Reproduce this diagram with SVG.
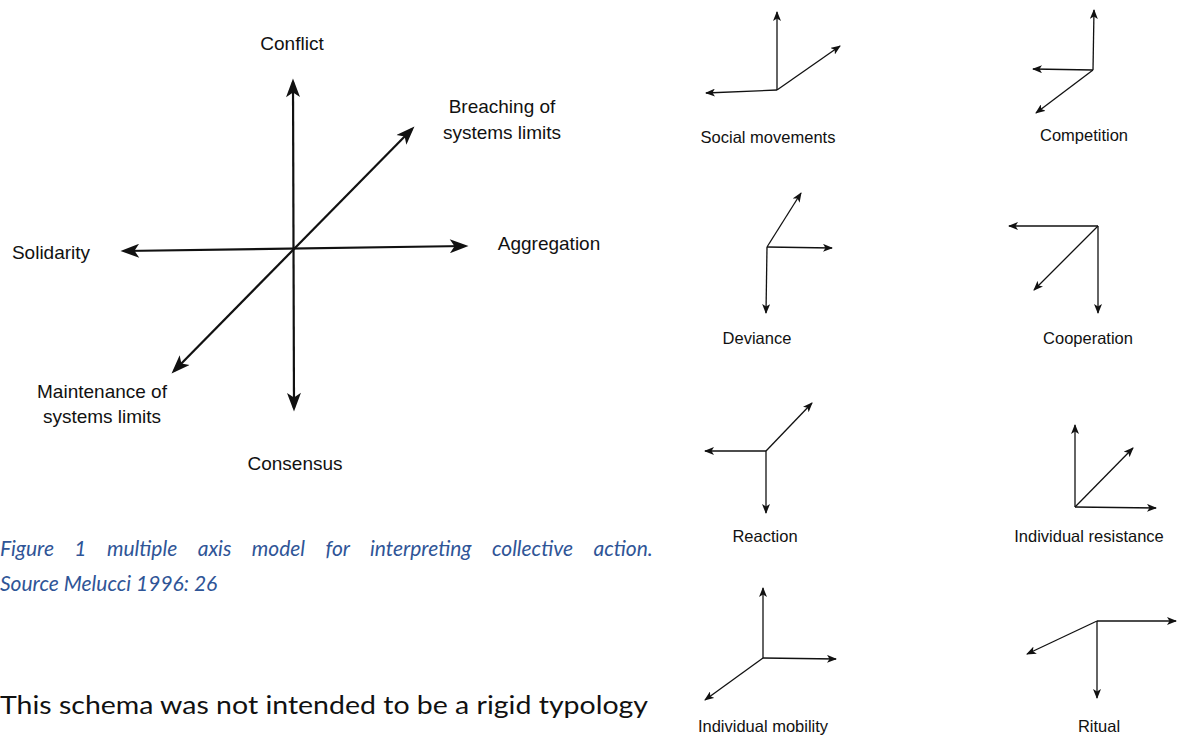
<svg xmlns="http://www.w3.org/2000/svg" width="1177" height="735" viewBox="0 0 1177 735">
<style>
.lbl{font-family:"Liberation Sans",Arial,sans-serif;font-size:19px;fill:#111;text-anchor:middle}
.sl{font-family:"Liberation Sans",Arial,sans-serif;font-size:16.5px;fill:#111;text-anchor:middle}
.ax{stroke:#111;stroke-width:2.2;fill:none;marker-start:url(#big);marker-end:url(#big)}
.sm{stroke:#111;stroke-width:1.3;fill:none;marker-end:url(#small)}
.cap{font-family:Lato,"Open Sans",sans-serif;font-style:italic;font-size:21px;fill:#2F5597}
.body{font-family:Lato,"Open Sans",sans-serif;font-size:25px;fill:#111}
</style>
<defs>
<marker id="big" markerUnits="userSpaceOnUse" markerWidth="20" markerHeight="14" viewBox="0 0 16 12" refX="13" refY="6" orient="auto-start-reverse">
<path d="M0,0 L16,6 L0,12 L4,6 z" fill="#111"/>
</marker>
<marker id="small" markerUnits="userSpaceOnUse" markerWidth="10" markerHeight="8" viewBox="0 0 10 8" refX="9" refY="4" orient="auto">
<path d="M0,0 L10,4 L0,8 L2.5,4 z" fill="#111"/>
</marker>
</defs>
<rect width="1177" height="735" fill="#fff"/>

<g id="connectors">
<line class="ax" x1="294" y1="408" x2="293" y2="82"/>
<line class="ax" x1="124" y1="251" x2="465" y2="246"/>
<line class="ax" x1="174" y1="371" x2="412" y2="129"/>
</g>

<g id="conflict"><text class="lbl" x="292" y="50">Conflict</text></g>
<g id="breaching"><text class="lbl" x="502" y="113">Breaching of</text><text class="lbl" x="502" y="139">systems limits</text></g>
<g id="solidarity"><text class="lbl" x="51" y="259">Solidarity</text></g>
<g id="aggregation"><text class="lbl" x="549" y="250">Aggregation</text></g>
<g id="maintenance"><text class="lbl" x="102" y="398">Maintenance of</text><text class="lbl" x="102" y="423">systems limits</text></g>
<g id="consensus"><text class="lbl" x="295" y="470">Consensus</text></g>

<g id="caption">
<text class="cap" x="0" y="556" word-spacing="15.5">Figure 1 multiple axis model for interpreting collective action.</text>
<text class="cap" x="0" y="591">Source Melucci 1996: 26</text>
</g>
<g id="bodytext"><text class="body" x="0" y="714" textLength="648" lengthAdjust="spacingAndGlyphs">This schema was not intended to be a rigid typology</text></g>

<g id="social-movements">
<line class="sm" x1="777" y1="90" x2="777" y2="12"/>
<line class="sm" x1="777" y1="90" x2="706" y2="93"/>
<line class="sm" x1="777" y1="90" x2="840" y2="46"/>
<text class="sl" x="768" y="143">Social movements</text>
</g>
<g id="competition">
<line class="sm" x1="1093" y1="70" x2="1094" y2="10"/>
<line class="sm" x1="1093" y1="70" x2="1033" y2="69"/>
<line class="sm" x1="1093" y1="70" x2="1036" y2="113"/>
<text class="sl" x="1084" y="141">Competition</text>
</g>
<g id="deviance">
<line class="sm" x1="767" y1="247" x2="801" y2="193"/>
<line class="sm" x1="767" y1="247" x2="832" y2="248"/>
<line class="sm" x1="767" y1="247" x2="766" y2="313"/>
<text class="sl" x="757" y="344">Deviance</text>
</g>
<g id="cooperation">
<line class="sm" x1="1098" y1="226" x2="1009" y2="226"/>
<line class="sm" x1="1098" y1="226" x2="1034" y2="290"/>
<line class="sm" x1="1098" y1="226" x2="1098" y2="313"/>
<text class="sl" x="1088" y="344">Cooperation</text>
</g>
<g id="reaction">
<line class="sm" x1="766" y1="451" x2="812" y2="403"/>
<line class="sm" x1="766" y1="451" x2="705" y2="451"/>
<line class="sm" x1="766" y1="451" x2="766" y2="513"/>
<text class="sl" x="765" y="542">Reaction</text>
</g>
<g id="individual-resistance">
<line class="sm" x1="1075" y1="507" x2="1075" y2="425"/>
<line class="sm" x1="1075" y1="507" x2="1133" y2="448"/>
<line class="sm" x1="1075" y1="507" x2="1156" y2="508"/>
<text class="sl" x="1089" y="542">Individual resistance</text>
</g>
<g id="individual-mobility">
<line class="sm" x1="763" y1="658" x2="763" y2="588"/>
<line class="sm" x1="763" y1="658" x2="836" y2="659"/>
<line class="sm" x1="763" y1="658" x2="705" y2="700"/>
<text class="sl" x="763" y="732">Individual mobility</text>
</g>
<g id="ritual">
<line class="sm" x1="1097" y1="621" x2="1176" y2="621"/>
<line class="sm" x1="1097" y1="621" x2="1097" y2="698"/>
<line class="sm" x1="1097" y1="621" x2="1027" y2="654"/>
<text class="sl" x="1099" y="732">Ritual</text>
</g>
</svg>
